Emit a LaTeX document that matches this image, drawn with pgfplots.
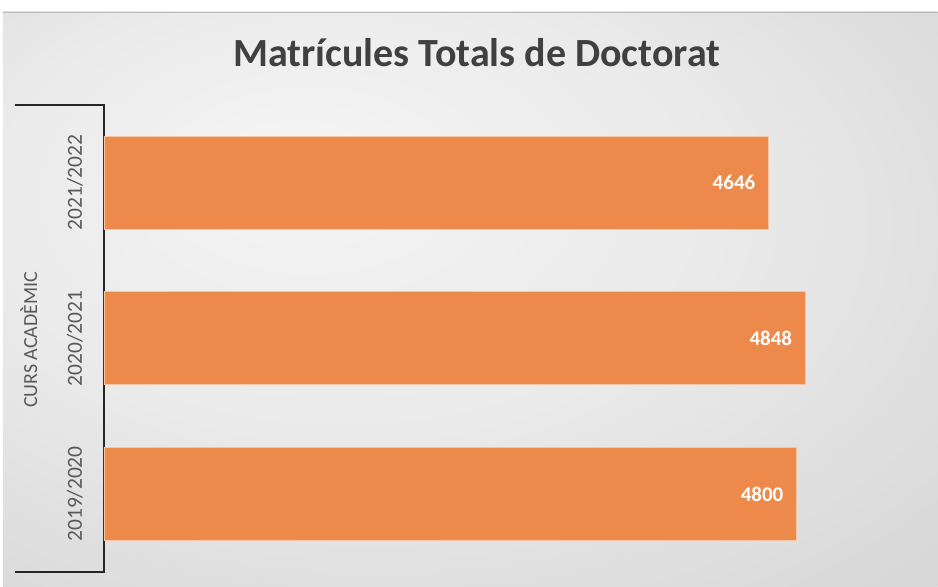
\documentclass[border=0pt]{standalone}
\usepackage{pgfplots}
\pgfplotsset{compat=1.18}
\usepackage{fontspec}
\setmainfont{Carlito}
\definecolor{barorange}{HTML}{ED8A4B}
\definecolor{baredge}{HTML}{F6C7A4}
\definecolor{titlegray}{HTML}{404040}
\definecolor{labgray}{HTML}{595959}
\definecolor{bgA}{HTML}{F5F5F5}
\definecolor{bgB}{HTML}{EAEAEA}
\definecolor{bgC}{HTML}{C4C4C4}
\pgfdeclareradialshading{bgshade}{\pgfpoint{-10bp}{12bp}}{color(0bp)=(bgA); color(20bp)=(bgB); color(60bp)=(bgC)}
\begin{document}
\begin{tikzpicture}[x=1pt,y=1pt]
\fill[white] (0,0) rectangle (938,587);
\shade[shading=bgshade] (3,0) rectangle (938,575);
\draw[gray!55, line width=0.8pt] (3,575) -- (938,575);
\node[font=\fontsize{40}{46}\selectfont\bfseries, text=titlegray, anchor=base] at (477,520) {Matrícules Totals de Doctorat};
\begin{axis}[
  at={(104pt,15pt)}, anchor=south west,
  scale only axis, width=806pt, height=467pt,
  xbar, bar width=93pt,
  xmin=1000, xmax=5419, ymin=-0.5, ymax=2.5,
  hide x axis,
  axis y line*=left,
  y axis line style={black!85, line width=1.8pt},
  ytick={0,1,2},
  yticklabels={2019/2020,2020/2021,2021/2022},
  major tick length=0pt,
  yticklabel style={rotate=90, anchor=base, inner sep=0pt, font=\fontsize{21.5}{25}\selectfont, text=labgray},
  yticklabel shift=22pt,
  ylabel={CURS ACADÈMIC},
  every axis y label/.style={at={(axis description cs:-0.0831,0.497)}, rotate=90, anchor=base, inner sep=0pt, font=\fontsize{20}{24}\selectfont, text=labgray},
  /pgf/number format/.cd, 1000 sep={}, assume math mode=true,
]
\addplot[fill=barorange, draw=baredge, line width=0.8pt,
  nodes near coords, point meta=x,
  every node near coord/.append style={anchor=east, inner sep=0pt, xshift=-13pt, text=white, font=\fontsize{21}{24}\selectfont\bfseries}]
  coordinates {(4800,0) (4848,1) (4646,2)};
\end{axis}
\draw[black!85, line width=1.8pt] (15,482) -- (104.9,482);
\draw[black!85, line width=1.8pt] (15,15) -- (104.9,15);
\end{tikzpicture}
\end{document}
